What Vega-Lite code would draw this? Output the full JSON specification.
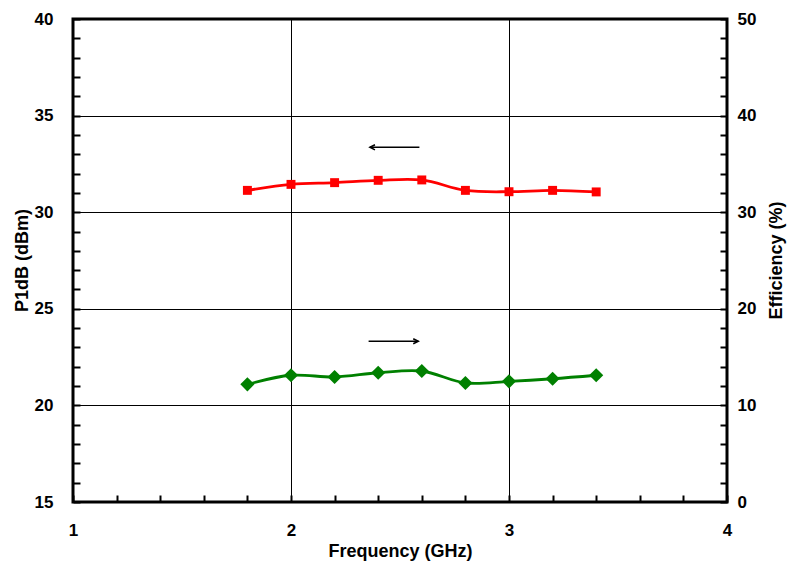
{
  "$schema": "https://vega.github.io/schema/vega-lite/v6.json",
  "autosize": "none",
  "width": 654,
  "height": 483,
  "padding": {"left": 73, "top": 19, "right": 63, "bottom": 62},
  "background": "white",
  "config": {
    "view": {"stroke": "black", "strokeWidth": 3},
    "axis": {
      "labelFont": "Liberation Sans", "labelFontWeight": "bold", "labelFontSize": 17, "labelColor": "black",
      "titleFont": "Liberation Sans", "titleFontWeight": "bold", "titleFontSize": 18, "titleColor": "black",
      "domain": false, "tickColor": "black", "tickWidth": 2, "tickSize": -7, "tickCount": 100,
      "gridColor": "black", "gridWidth": 1, "labelOverlap": false, "labelFlush": false, "format": "d"
    }
  },
  "datasets": {
    "series": [
      {"f": 1.8, "p1db": 31.13, "eff": 12.18},
      {"f": 2.0, "p1db": 31.44, "eff": 13.12},
      {"f": 2.2, "p1db": 31.53, "eff": 12.94},
      {"f": 2.4, "p1db": 31.65, "eff": 13.38},
      {"f": 2.6, "p1db": 31.67, "eff": 13.56},
      {"f": 2.8, "p1db": 31.13, "eff": 12.32},
      {"f": 3.0, "p1db": 31.06, "eff": 12.49},
      {"f": 3.2, "p1db": 31.13, "eff": 12.76},
      {"f": 3.4, "p1db": 31.05, "eff": 13.12}
    ],
    "arrows": [
      {"x1": 2.362, "x2": 2.589, "y": 33.36, "dir": "left", "tip": 2.362},
      {"x1": 2.356, "x2": 2.584, "y": 23.32, "dir": "right", "tip": 2.584}
    ]
  },
  "layer": [
    {
      "data": {"name": "series"},
      "layer": [
        {
          "mark": {"type": "line", "color": "#FF0000", "strokeWidth": 2.8, "interpolate": "catmull-rom"},
          "encoding": {
            "x": {"field": "f", "type": "quantitative",
              "scale": {"domain": [1, 4], "nice": false, "zero": false},
              "axis": {
                "title": "Frequency (GHz)",
                "values": [1,1.2,1.4,1.6,1.8,2,2.2,2.4,2.6,2.8,3,3.2,3.4,3.6,3.8,4],
                "tickCount": 100,
                "labelExpr": "abs(datum.value - round(datum.value)) < 0.001 ? format(datum.value, 'd') : ''",
                "labelPadding": 35,
                "labelBaseline": "middle",
                "grid": true,
                "gridOpacity": {"condition": {"test": "datum.value == 2 || datum.value == 3", "value": 1}, "value": 0},
                "titleX": 327, "titleY": 49, "titleBaseline": "middle"
              }
            },
            "y": {"field": "p1db", "type": "quantitative",
              "scale": {"domain": [15, 40], "nice": false, "zero": false},
              "axis": {
                "title": "P1dB (dBm)",
                "values": [15,16,17,18,19,20,21,22,23,24,25,26,27,28,29,30,31,32,33,34,35,36,37,38,39,40],
                "tickCount": 100,
                "labelExpr": "datum.value % 5 == 0 ? format(datum.value, 'd') : ''",
                "labelPadding": 27,
                "grid": true,
                "gridOpacity": {"condition": {"test": "datum.value % 5 == 0 && datum.value > 15 && datum.value < 40", "value": 1}, "value": 0},
                "titleX": -51, "titleY": 241, "titleAngle": -90, "titleBaseline": "middle", "titleAlign": "center"
              }
            }
          }
        },
        {
          "mark": {"type": "point", "shape": "square", "filled": true, "color": "#FF0000", "size": 80, "opacity": 1},
          "encoding": {
            "x": {"field": "f", "type": "quantitative"},
            "y": {"field": "p1db", "type": "quantitative"}
          }
        }
      ]
    },
    {
      "data": {"name": "series"},
      "layer": [
        {
          "mark": {"type": "line", "color": "#008000", "strokeWidth": 2.8, "interpolate": "catmull-rom"},
          "encoding": {
            "x": {"field": "f", "type": "quantitative"},
            "y": {"field": "eff", "type": "quantitative",
              "scale": {"domain": [0, 50], "nice": false},
              "axis": {
                "orient": "right",
                "title": "Efficiency (%)",
                "values": [0,2,4,6,8,10,12,14,16,18,20,22,24,26,28,30,32,34,36,38,40,42,44,46,48,50],
                "tickCount": 100,
                "labelExpr": "datum.value % 10 == 0 ? format(datum.value, 'd') : ''",
                "labelPadding": 17,
                "grid": false,
                "titleX": 49, "titleY": 241, "titleAngle": -90, "titleBaseline": "middle", "titleAlign": "center"
              }
            }
          }
        },
        {
          "mark": {"type": "point", "shape": "diamond", "filled": true, "color": "#008000", "size": 200, "opacity": 1},
          "encoding": {
            "x": {"field": "f", "type": "quantitative"},
            "y": {"field": "eff", "type": "quantitative"}
          }
        }
      ]
    },
    {
      "data": {"name": "arrows"},
      "layer": [
        {
          "mark": {"type": "rule", "color": "black", "strokeWidth": 1.5},
          "encoding": {
            "x": {"field": "x1", "type": "quantitative"},
            "x2": {"field": "x2"},
            "y": {"field": "y", "type": "quantitative", "scale": {"domain": [15, 40], "nice": false, "zero": false}, "axis": null}
          }
        },
        {
          "mark": {"type": "point", "filled": false, "color": "black", "strokeWidth": 1.5, "size": 40, "opacity": 1},
          "encoding": {
            "x": {"field": "tip", "type": "quantitative"},
            "y": {"field": "y", "type": "quantitative", "scale": {"domain": [15, 40], "nice": false, "zero": false}, "axis": null},
            "shape": {"field": "dir", "type": "nominal", "legend": null,
              "scale": {"domain": ["left", "right"], "range": ["M 1.6 -0.8 L 0 0 L 1.6 0.8", "M -1.6 -0.8 L 0 0 L -1.6 0.8"]}}
          }
        }
      ]
    }
  ],
  "resolve": {"scale": {"y": "independent"}}
}
